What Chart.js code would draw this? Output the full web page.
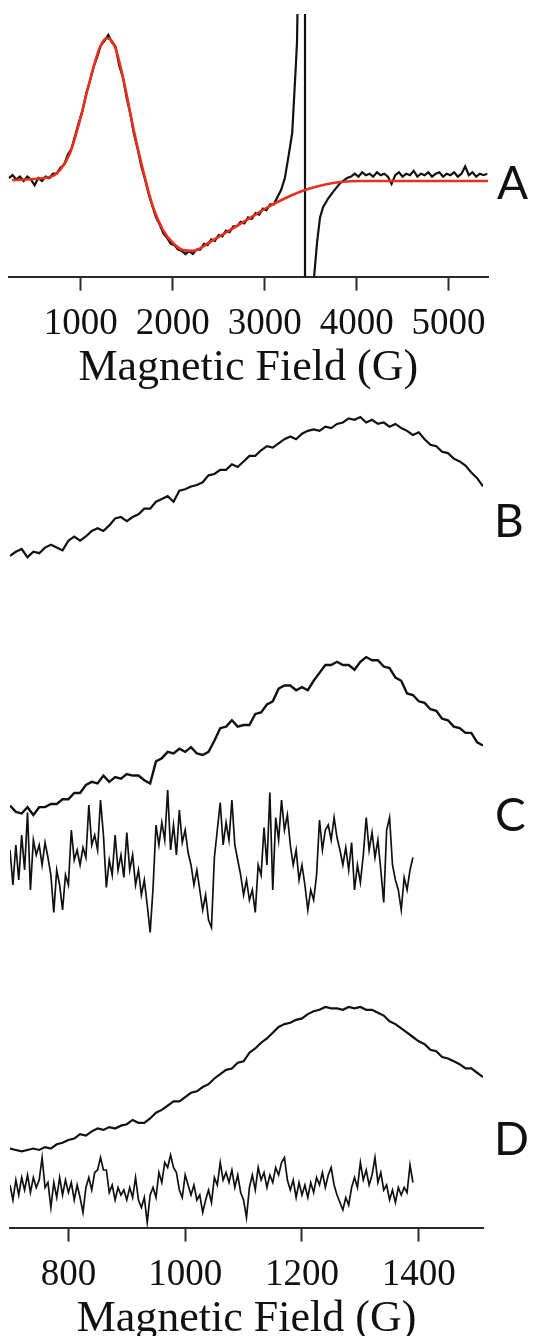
<!DOCTYPE html>
<html>
<head>
<meta charset="utf-8">
<title>EPR spectra A-D</title>
<script src="https://cdn.jsdelivr.net/npm/chart.js@4.4.1/dist/chart.umd.min.js"></script>
<style>
  html, body { margin: 0; padding: 0; background: #fff; }
  body { width: 533px; height: 1336px; position: relative; overflow: hidden; }
  canvas { position: absolute; left: 0; }
  #chart-a { top: 0; }
  #chart-bcd { top: 380px; }
  .tag { position: absolute; font-family: Lato, 'Open Sans', sans-serif; font-size: 46px; line-height: 46px; color: #111; }
</style>
</head>
<body>
<canvas id="chart-a" width="533" height="399"></canvas>
<canvas id="chart-bcd" width="533" height="970"></canvas>
<div class="tag" style="left:497px;top:159px;">A</div>
<div class="tag" style="left:494px;top:497px;">B</div>
<div class="tag" style="left:495px;top:791px;">C</div>
<div class="tag" style="left:494px;top:1115px;">D</div>

<script>
const SERIF = "'Liberation Serif', 'Times New Roman', serif";
const AXIS_TITLE = 'Magnetic Field (G)';
const TICKS_A = [1000, 2000, 3000, 4000, 5000];
const TICKS_BCD = [800, 1000, 1200, 1400];

// --- panel A: full sweep, measured spectrum + fit (a.u., baseline = 0, peak = 1)
const FIELD_A = [
  220, 260, 300, 340, 380, 420, 460, 500, 540, 580,
  620, 660, 700, 740, 780, 820, 860, 900, 940, 980,
  1020, 1060, 1100, 1140, 1180, 1220, 1260, 1300, 1340, 1380,
  1420, 1460, 1500, 1540, 1580, 1620, 1660, 1700, 1740, 1780,
  1820, 1860, 1900, 1940, 1980, 2020, 2060, 2100, 2140, 2180,
  2220, 2260, 2300, 2340, 2380, 2420, 2460, 2500, 2540, 2580,
  2620, 2660, 2700, 2740, 2780, 2820, 2860, 2900, 2940, 2980,
  3020, 3060, 3100, 3140, 3180, 3220, 3260, 3300, 3340,
  3352, 3365, 3400, 3439, 3439, 3500, 3537, 3570, 3602, 3635, 3690, 3744, 3820, 3896,
  3940, 3980, 4020, 4060, 4100, 4140, 4180, 4220, 4260, 4300,
  4340, 4380, 4420, 4460, 4500, 4540, 4580, 4620, 4660, 4700,
  4740, 4780, 4820, 4860, 4900, 4940, 4980, 5020, 5060, 5100,
  5140, 5180, 5220, 5260, 5300, 5340, 5380, 5420,
];
const SIGNAL_A = [
  0.02, 0.04, 0.01, 0.03, 0.00, 0.03, 0.01, -0.03, 0.02, 0.00,
  0.03, 0.02, 0.05, 0.05, 0.09, 0.11, 0.18, 0.22, 0.31, 0.40,
  0.48, 0.60, 0.68, 0.78, 0.85, 0.93, 0.96, 1.00, 0.95, 0.92,
  0.79, 0.71, 0.57, 0.46, 0.32, 0.22, 0.10, 0.01, -0.09, -0.17,
  -0.25, -0.30, -0.36, -0.39, -0.43, -0.44, -0.47, -0.48, -0.50, -0.48,
  -0.50, -0.47, -0.47, -0.43, -0.44, -0.40, -0.41, -0.37, -0.38, -0.34,
  -0.35, -0.31, -0.31, -0.28, -0.29, -0.25, -0.26, -0.22, -0.23, -0.19,
  -0.20, -0.16, -0.16, -0.11, -0.06, 0.02, 0.17, 0.33, 0.80,
  0.95, 1.5, 3.0, 3.5, -3.5, -1.5, -0.66, -0.42, -0.25, -0.18, -0.12, -0.075, -0.015, 0.02,
  0.03, 0.05, 0.03, 0.06, 0.04, 0.05, 0.03, 0.06, 0.04, 0.05,
  0.03, -0.02, 0.04, 0.06, 0.03, 0.05, 0.04, 0.07, 0.03, 0.05,
  0.04, 0.06, 0.03, 0.05, 0.06, 0.03, 0.05, 0.04, 0.06, 0.03,
  0.05, 0.10, 0.04, 0.06, 0.03, 0.05, 0.04, 0.05,
];
const FIELD_A_FIT = [
  254, 667, 776, 885, 993, 1102, 1211, 1287, 1374, 1483,
  1570, 1678, 1787, 1896, 2004, 2113, 2222, 2407, 2624, 2841,
  3059, 3276, 3439, 3635, 3820, 4037, 5428,
];
const FIT_A = [
  0.007, 0.027, 0.075, 0.192, 0.418, 0.692, 0.918, 0.979, 0.918, 0.644,
  0.370, 0.075, -0.178, -0.336, -0.425, -0.473, -0.479, -0.418, -0.336, -0.253,
  -0.171, -0.103, -0.062, -0.027, -0.007, 0, 0,
];

// --- panels B-D: low-field region
const FIELD_SCAN = [
  700, 710, 720, 730, 740, 750, 760, 770, 780, 790,
  800, 810, 820, 830, 840, 850, 860, 870, 880, 890,
  900, 910, 920, 930, 940, 950, 960, 970, 980, 990,
  1000, 1010, 1020, 1030, 1040, 1050, 1060, 1070, 1080, 1090,
  1100, 1110, 1120, 1130, 1140, 1150, 1160, 1170, 1180, 1190,
  1200, 1210, 1220, 1230, 1240, 1250, 1260, 1270, 1280, 1290,
  1300, 1310, 1320, 1330, 1340, 1350, 1360, 1370, 1380, 1390,
  1400, 1410, 1420, 1430, 1440, 1450, 1460, 1470, 1480, 1490,
  1500, 1510,
];
const SIGNAL_B = [
  0.00, 0.03, 0.05, -0.01, 0.03, 0.02, 0.06, 0.08, 0.06, 0.04,
  0.11, 0.14, 0.11, 0.14, 0.18, 0.20, 0.18, 0.22, 0.27, 0.28,
  0.25, 0.28, 0.30, 0.34, 0.34, 0.39, 0.41, 0.43, 0.39, 0.47,
  0.48, 0.50, 0.51, 0.53, 0.58, 0.59, 0.62, 0.62, 0.66, 0.64,
  0.68, 0.72, 0.72, 0.76, 0.79, 0.78, 0.81, 0.84, 0.86, 0.84,
  0.88, 0.90, 0.91, 0.90, 0.93, 0.92, 0.95, 0.96, 0.99, 0.98,
  1.00, 0.96, 0.98, 0.95, 0.96, 0.93, 0.95, 0.92, 0.90, 0.87,
  0.89, 0.84, 0.80, 0.79, 0.75, 0.74, 0.70, 0.68, 0.65, 0.60,
  0.56, 0.50,
];
const SIGNAL_C = [
  0.06, 0.02, 0.01, 0.05, 0.00, 0.05, 0.05, 0.07, 0.07, 0.10,
  0.10, 0.14, 0.14, 0.19, 0.21, 0.20, 0.25, 0.21, 0.24, 0.23,
  0.26, 0.25, 0.25, 0.22, 0.20, 0.34, 0.36, 0.40, 0.39, 0.42,
  0.40, 0.43, 0.39, 0.38, 0.40, 0.47, 0.55, 0.56, 0.60, 0.56,
  0.57, 0.57, 0.64, 0.65, 0.70, 0.72, 0.80, 0.82, 0.82, 0.79,
  0.81, 0.79, 0.85, 0.90, 0.95, 0.95, 0.97, 0.95, 0.95, 0.92,
  0.97, 1.00, 0.98, 0.98, 0.94, 0.93, 0.87, 0.85, 0.77, 0.76,
  0.72, 0.71, 0.67, 0.66, 0.61, 0.60, 0.56, 0.55, 0.52, 0.52,
  0.46, 0.44,
];
const SIGNAL_D = [
  0.01, 0.00, -0.01, 0.00, 0.01, 0.00, 0.02, 0.01, 0.04, 0.05,
  0.07, 0.08, 0.11, 0.10, 0.13, 0.15, 0.14, 0.16, 0.15, 0.17,
  0.18, 0.21, 0.19, 0.19, 0.22, 0.26, 0.28, 0.31, 0.34, 0.34,
  0.37, 0.40, 0.41, 0.44, 0.46, 0.50, 0.53, 0.56, 0.57, 0.61,
  0.62, 0.68, 0.71, 0.75, 0.78, 0.82, 0.86, 0.88, 0.89, 0.91,
  0.92, 0.95, 0.97, 0.98, 1.00, 0.99, 0.99, 0.98, 1.00, 0.99,
  1.00, 0.98, 0.98, 0.96, 0.94, 0.90, 0.88, 0.85, 0.82, 0.79,
  0.76, 0.74, 0.70, 0.69, 0.65, 0.64, 0.62, 0.60, 0.57, 0.57,
  0.54, 0.51,
];

// residuals (experiment minus simulation), shorter sweep
const FIELD_DIFF = [
  700, 705, 710, 715, 720, 725, 730, 735, 740, 745,
  750, 755, 760, 765, 770, 775, 780, 785, 790, 795,
  800, 805, 810, 815, 820, 825, 830, 835, 840, 845,
  850, 855, 860, 865, 870, 875, 880, 885, 890, 895,
  900, 905, 910, 915, 920, 925, 930, 935, 940, 945,
  950, 955, 960, 965, 970, 975, 980, 985, 990, 995,
  1000, 1005, 1010, 1015, 1020, 1025, 1030, 1035, 1040, 1045,
  1050, 1055, 1060, 1065, 1070, 1075, 1080, 1085, 1090, 1095,
  1100, 1105, 1110, 1115, 1120, 1125, 1130, 1135, 1140, 1145,
  1150, 1155, 1160, 1165, 1170, 1175, 1180, 1185, 1190, 1195,
  1200, 1205, 1210, 1215, 1220, 1225, 1230, 1235, 1240, 1245,
  1250, 1255, 1260, 1265, 1270, 1275, 1280, 1285, 1290, 1295,
  1300, 1305, 1310, 1315, 1320, 1325, 1330, 1335, 1340, 1345,
  1350, 1355, 1360, 1365, 1370, 1375, 1380, 1385, 1390,
];
const DIFF_C = [
  0.2, -0.5, 0.3, -0.4, 0.5, -0.2, 0.95, -0.6, 0.4, 0.1,
  0.3, -0.1, 0.35, 0.05, -0.3, -1.05, -0.2, -0.5, -1.0, -0.3,
  -0.5, 0.6, 0.0, 0.2, -0.1, 0.25, 0.05, 1.1, 0.3, 0.5,
  0.2, 1.2, 0.5, -0.55, 0.0, -0.3, 0.5, -0.2, 0.1, -0.35,
  0.55, -0.2, 0.1, -0.5, -0.2, -0.7, -0.4, -0.9, -1.45, -0.55,
  0.7, 0.3, 0.75, 0.4, 1.4, 0.2, 0.7, 0.1, 1.0, 0.35,
  0.6, 0.15, -0.1, -0.5, -0.2, -0.6, -1.0, -0.7, -1.2, -1.35,
  0.05, 0.6, 1.15, 0.3, 0.75, 0.4, 1.2, 0.3, 0.0, -0.3,
  -0.7, -0.4, -0.8, -0.6, -1.05, -0.1, -0.3, 0.65, -0.1, 1.35,
  -0.6, 0.85, 0.4, 1.2, 0.6, 0.9, 0.3, -0.1, 0.2, -0.4,
  -0.1, -0.5, -1.0, -0.6, -0.8, -0.3, 0.8, 0.2, 0.6, 0.7,
  0.4, 0.85, 0.45, 0.2, -0.1, 0.25, -0.2, 0.35, -0.6, -0.1,
  -0.45, 0.1, 0.85, 0.2, 0.55, 0.05, 0.4, -0.2, -0.85, 0.6,
  0.85, -0.1, -0.4, -0.6, -1.0, -0.35, -0.6, -0.2, 0.05,
];
const DIFF_D = [
  0.0, -0.3, 0.1, -0.2, 0.15, -0.1, 0.2, -0.15, 0.15, -0.05,
  0.1, 0.55, -0.05, 0.05, -0.45, 0.05, -0.25, 0.15, -0.2, 0.1,
  -0.15, 0.05, -0.3, 0.0, -0.25, -0.55, -0.05, 0.15, -0.1, 0.25,
  0.3, 0.55, 0.3, 0.3, -0.15, 0.0, -0.3, -0.05, -0.2, -0.1,
  -0.3, -0.05, -0.25, 0.15, -0.3, -0.45, -0.25, -0.75, -0.2, -0.05,
  -0.25, 0.25, 0.05, 0.45, 0.35, 0.6, 0.35, 0.25, -0.1, -0.25,
  0.2, 0.0, -0.2, 0.0, -0.3, -0.2, -0.55, -0.3, -0.1, -0.35,
  0.15, 0.0, 0.45, 0.1, 0.25, 0.05, 0.3, -0.05, 0.2, -0.15,
  -0.3, -0.65, -0.05, 0.2, -0.1, 0.35, 0.1, 0.25, -0.05, 0.2,
  0.05, 0.35, 0.2, 0.45, 0.55, 0.1, -0.1, 0.1, -0.25, 0.05,
  -0.2, 0.0, -0.25, 0.05, -0.15, 0.15, 0.0, 0.25, -0.05, 0.2,
  0.35, 0.0, -0.2, -0.35, -0.5, -0.25, -0.4, -0.05, 0.15, -0.05,
  0.45, 0.1, 0.3, 0.0, 0.2, 0.55, 0.05, 0.25, -0.1, 0.0,
  -0.3, -0.1, -0.35, -0.05, -0.2, -0.05, -0.15, 0.4, 0.05,
];

const INK = '#111';
const AXIS_INK = '#2a2a2a';
const FIT_RED = '#e8301c';

function fieldAxis(min, max, ticks) {
  return {
    type: 'linear',
    min,
    max,
    afterBuildTicks: (scale) => { scale.ticks = ticks.map((v) => ({ value: v })); },
    border: { display: true, color: AXIS_INK, width: 2 },
    grid: { drawOnChartArea: false, drawTicks: true, tickLength: 14, tickWidth: 2, tickColor: AXIS_INK },
    ticks: {
      color: INK,
      padding: 11,
      maxRotation: 0,
      autoSkip: false,
      font: { family: SERIF, size: 37, lineHeight: 1.2 },
      callback: (v) => String(v),
    },
    // small lineHeight keeps the title tight under the tick labels
    title: { display: true, text: AXIS_TITLE, color: INK, padding: 0, font: { family: SERIF, size: 44, lineHeight: 0.5 } },
  };
}

// hidden vertical axis, one per stacked trace
function hiddenAxis(min, max) {
  return { type: 'linear', display: false, min, max };
}

function trace(label, xs, ys, yAxisID, color, width, extra) {
  return Object.assign({
    label,
    yAxisID,
    data: xs.map((x, i) => ({ x, y: ys[i] })),
    borderColor: color,
    borderWidth: width,
    pointRadius: 0,
    tension: 0,
    fill: false,
  }, extra || {});
}

const baseOptions = {
  responsive: false,
  animation: false,
  events: [],
  plugins: { legend: { display: false }, tooltip: { enabled: false } },
};

new Chart(document.querySelector('#chart-a'), {
  type: 'line',
  data: {
    datasets: [
      trace('fit', FIELD_A_FIT, FIT_A, 'y', FIT_RED, 2.6, { cubicInterpolationMode: 'monotone', order: 0 }),
      trace('A', FIELD_A, SIGNAL_A, 'y', INK, 2.2, { order: 1 }),
    ],
  },
  options: {
    ...baseOptions,
    layout: { padding: { top: 14, left: 8.5, right: 45, bottom: 20 } },
    scales: {
      x: fieldAxis(216, 5428, TICKS_A),
      y: hiddenAxis(-0.655, 1.144),
    },
  },
});

new Chart(document.querySelector('#chart-bcd'), {
  type: 'line',
  data: {
    datasets: [
      trace('B', FIELD_SCAN, SIGNAL_B, 'yB', INK, 2.2),
      trace('C', FIELD_SCAN, SIGNAL_C, 'yC', INK, 2.4),
      trace('C residual', FIELD_DIFF, DIFF_C, 'yCd', INK, 1.7),
      trace('D', FIELD_SCAN, SIGNAL_D, 'yD', INK, 2.2),
      trace('D residual', FIELD_DIFF, DIFF_D, 'yDd', INK, 1.7),
    ],
  },
  options: {
    ...baseOptions,
    layout: { padding: { top: 20, left: 10, right: 50, bottom: 20 } },
    scales: {
      x: fieldAxis(700, 1510, TICKS_BCD),
      yB: hiddenAxis(-4.832, 1.122),
      yC: hiddenAxis(-2.611, 2.627),
      yCd: hiddenAxis(-7.352, 9.2),
      yD: hiddenAxis(-0.543, 5.245),
      yDd: hiddenAxis(-0.852, 15.7),
    },
  },
});
</script>
</body>
</html>
